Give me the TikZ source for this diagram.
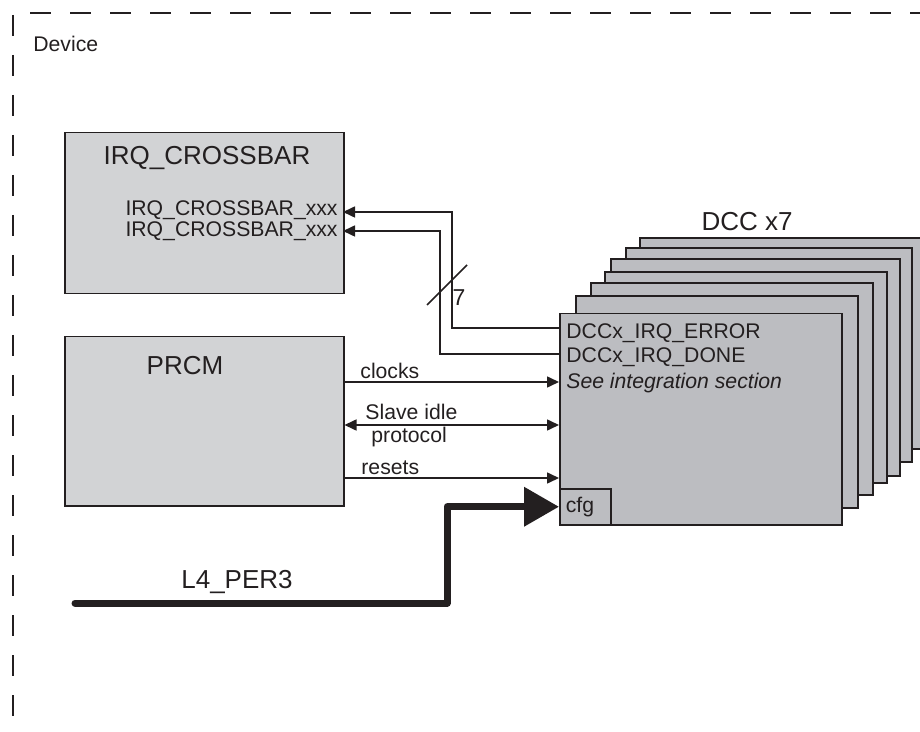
\documentclass[tikz,border=0pt]{standalone}
\usepackage{fontspec}
\setmainfont{Liberation Sans}
\usetikzlibrary{arrows.meta,positioning}
\definecolor{lightbox}{RGB}{210,211,213}
\definecolor{dccgray}{RGB}{188,189,193}
\definecolor{ink}{RGB}{35,31,32}
\newcommand{\smallfont}{\fontsize{10.6}{12.7}\selectfont}
\newcommand{\bigfont}{\fontsize{13}{15.5}\selectfont}

\begin{document}
\begin{tikzpicture}[x=0.5pt,y=-0.5pt,
    >={Triangle[length=6pt,width=5.5pt]},
    blk/.style={draw=ink,line width=0.75pt,fill=lightbox,anchor=north west,inner sep=0pt},
    dccback/.style={draw=ink,line width=0.75pt,fill=dccgray},
    wire/.style={draw=ink,line width=0.8pt},
    lbl/.style={inner sep=0pt,text=ink,font=\smallfont},
    ttl/.style={inner sep=0pt,text=ink,font=\bigfont}]
    \useasboundingbox (0,0) rectangle (920,732);
    \clip (0,0) rectangle (920,732);
    \draw[ink,line width=0.7pt,dash pattern=on 10.5pt off 9.5pt] (30,13) -- (940,13);
    \draw[ink,line width=0.7pt,dash pattern=on 10.5pt off 9.5pt] (13,15) -- (13,760);
    \node[lbl,anchor=west] (device) at (33,44) {Device};

    \node[blk,minimum width=139.5pt,minimum height=80.5pt] (xbar) at (64,132) {};
    \node[ttl] (xbartitle) at (207,158) {IRQ\_CROSSBAR};
    \node[lbl,anchor=east] (xbarA) at (338,210) {IRQ\_CROSSBAR\_xxx};
    \node[lbl,anchor=east] (xbarB) at (338,231) {IRQ\_CROSSBAR\_xxx};

    \node[blk,minimum width=139.5pt,minimum height=84.5pt] (prcm) at (64,336) {};
    \node[ttl] (prcmtitle) at (185,366) {PRCM};

    \foreach \bx/\by/\bw/\bh in {640/238/282/211, 626/248/286/214, 611/259/289/217,
                                  605/272/282/211, 591/283/282/212, 576/296/282/212} {
        \draw[dccback] (\bx,\by) rectangle ++(\bw,\bh);
    }
    \node[ttl] (dcctitle) at (747,222) {DCC x7};
    \node[blk,fill=dccgray,minimum width=141pt,minimum height=105.5pt] (dcc) at (559,313) {};
    \node[blk,fill=dccgray,minimum width=25.5pt,minimum height=18pt] (cfg) at (559,488) {};
    \node[lbl] (cfgtext) at (580,507) {cfg};
    \node[lbl,anchor=west] (err) at (566,333) {DCCx\_IRQ\_ERROR};
    \node[lbl,anchor=west] (done) at (566,357) {DCCx\_IRQ\_DONE};
    \node[lbl,anchor=west,font=\smallfont\itshape] (integ) at (566,383) {See integration section};

    \coordinate (xbarinA) at (343,212);
    \coordinate (xbarinB) at (343,231);
    \coordinate (errport) at (559,328);
    \coordinate (doneport) at (559,354);
    \coordinate (clkport) at (559,382);
    \coordinate (idleport) at (559,425);
    \coordinate (rstport) at (559,478);
    \coordinate (l4start) at (75,603);

    \draw[wire,->] (errport) -- (452,328) |- (xbarinA);
    \draw[wire,->] (doneport) -- (440,354) |- (xbarinB);
    \draw[wire] (427,305) -- (467,265);
    \node[lbl,font=\fontsize{11.5}{13}\selectfont] (bits) at (459,298) {7};

    \draw[wire,->] (prcm.east |- clkport) -- (clkport);
    \draw[wire,<->] (prcm.east |- idleport) -- (idleport);
    \draw[wire,->] (prcm.east |- rstport) -- (rstport);
    \node[lbl,anchor=west] (clk) at (360,371) {clocks};
    \node[lbl,anchor=west] (idleA) at (365,412) {Slave idle};
    \node[lbl,anchor=west] (idleB) at (371,437) {protocol};
    \node[lbl,anchor=west] (rst) at (361,468) {resets};

    \draw[ink,line width=3.5pt,line cap=round,line join=round,
          -{Triangle[length=17.5pt,width=19pt]}] (l4start) -- (447,603) |- (cfg.west);
    \node[ttl] (l4) at (237,582) {L4\_PER3};
\end{tikzpicture}
\end{document}
